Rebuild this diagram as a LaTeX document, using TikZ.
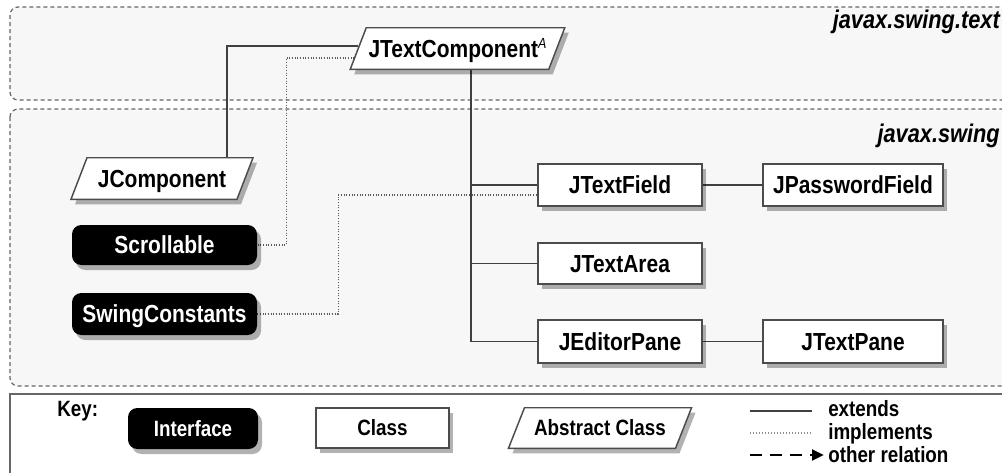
\documentclass[tikz,border=0pt]{standalone}
\usepackage{fontspec}
\newfontfamily\cond[FakeStretch=0.85]{Liberation Sans}
\usetikzlibrary{calc,shadows,arrows.meta}
\pgfdeclarelayer{pkg}
\pgfdeclarelayer{conn}
\pgfdeclarelayer{shape}
\pgfsetlayers{pkg,conn,shape,main}
\tikzset{
  lbl/.style={font=\cond\bfseries\fontsize{18.5}{21}\selectfont, text height=13.2pt, text depth=0pt, inner sep=0pt},
  legf/.style={font=\cond\bfseries\fontsize{16.6}{19}\selectfont, inner sep=0pt},
  shad/.style={drop shadow={shadow xshift=3pt, shadow yshift=-3.75pt, fill=black, opacity=.3}},
  cls/.style={lbl, draw=black!70, line width=1.1pt, fill=white, shad},
  iface/.style={lbl, fill=black, text=white, rounded corners=7pt, shad},
  abs/.style={lbl},
  absline/.style={draw=black!70, line width=1.1pt, fill=white},
  pkgbox/.style={draw=black!60, line width=0.9pt, dash pattern=on 3pt off 2.25pt, rounded corners=6pt, fill=black!3},
  keybox/.style={draw=black!60, line width=1.5pt, fill=white},
  ext/.style={draw=black!75, line width=1.2pt},
  impl/.style={draw=black!65, line width=1.1pt, dash pattern=on 0.75pt off 1.25pt},
  pkglbl/.style={font=\cond\bfseries\itshape\fontsize{19.2}{22}\selectfont, inner sep=0pt, anchor=base east},
}
\newcommand\paral[1]{%
\begin{pgfonlayer}{shape}
\fill[black,opacity=.3] ($(#1.south west)+(-4,5)$) -- ($(#1.north west)+(12,5)$) -- ($(#1.north east)+(12,5)$) -- ($(#1.south east)+(-4,5)$) -- cycle;
\draw[absline] ($(#1.south west)+(-8,0)$) -- ($(#1.north west)+(8,0)$) -- ($(#1.north east)+(8,0)$) -- ($(#1.south east)+(-8,0)$) -- cycle;
\end{pgfonlayer}}
\begin{document}
\begin{tikzpicture}[x=0.75pt,y=-0.75pt]
\useasboundingbox (0,0) rectangle (1002,472);
\begin{pgfonlayer}{pkg}
\fill[white] (0,0) rectangle (1002,472);
\draw[pkgbox] (10,7) rectangle (1016,100);
\draw[pkgbox] (10,109) rectangle (1016,386);
\draw[keybox] (10,394) rectangle (1016,480);
\end{pgfonlayer}
% package labels
\node[pkglbl] (pt) at (1000,28) {javax.swing.text};
\node[pkglbl] (ps) at (1000,142) {javax.swing};
% abstract classes
\node[abs, minimum width=148.5pt, minimum height=30.75pt] (tc) at (457.5,48.5) {JTextComponent{\fontsize{11}{11}\selectfont\mdseries\itshape\raisebox{6.5pt}{A}}};
\node[abs, minimum width=124.1pt, minimum height=30.75pt] (jc) at (162,178.5) {JComponent};
\paral{tc}
\paral{jc}
% interfaces
\node[iface, minimum width=138.75pt, minimum height=30pt] (scr) at (164.5,245) {Scrollable};
\node[iface, minimum width=138.75pt, minimum height=31.5pt] (swc) at (164.5,314) {SwingConstants};
% classes
\node[cls, minimum width=123pt, minimum height=31.5pt] (tf) at (620,185) {JTextField};
\node[cls, minimum width=135pt, minimum height=31.5pt] (pf) at (853,185) {JPasswordField};
\node[cls, minimum width=123pt, minimum height=30.75pt] (ta) at (620,263.5) {JTextArea};
\node[cls, minimum width=123pt, minimum height=32.25pt] (ep) at (620,341.5) {JEditorPane};
\node[cls, minimum width=135pt, minimum height=32.25pt] (tp) at (853,341.5) {JTextPane};
% connectors
\begin{pgfonlayer}{conn}
\coordinate (trunk) at ($(tc.south)+(13.5,0)$);
\draw[ext] ($(tc.west)+(0,-2.5)$) -| (jc.north -| 227,0);
\draw[ext] (trunk) |- (tf.west);
\draw[ext] (trunk) |- (ta.west);
\draw[ext] (trunk) |- (ep.west);
\draw[ext] (tf.east) -- (pf.west);
\draw[ext] (ep.east) -- (tp.west);
\draw[impl] ($(tc.west)+(-4,9.5)$) -| ($(scr.east)+(29,0)$) -- (scr.east);
\draw[impl] (swc.east) -| ($(tf.west)+(-199,10)$) -- ($(tf.west)+(0,10)$);
\end{pgfonlayer}
% key
\node[legf, anchor=base west] (key) at (57,416) {Key:};
\node[iface, legf, text height=11.9pt, text depth=0pt, minimum width=97.5pt, minimum height=30.75pt] (ki) at (193,428.5) {Interface};
\node[cls, legf, text height=11.9pt, text depth=0pt, minimum width=99.75pt, minimum height=30pt] (kc) at (382.5,428) {Class};
\node[abs, legf, text height=11.9pt, text depth=0pt, minimum width=124.9pt, minimum height=30pt] (ka) at (600,428) {Abstract Class};
\paral{ka}
\coordinate (e1) at (750,411); \coordinate (e2) at (812,411);
\coordinate (i1) at (750,433); \coordinate (i2) at (812,433);
\coordinate (o1) at (750,455); \coordinate (o2) at (824,455);
\draw[ext] (e1) -- (e2);
\draw[draw=black!45, line width=1pt, dash pattern=on 0.75pt off 1.5pt] (i1) -- (i2);
\draw[black, line width=2.2pt, dash pattern=on 9pt off 6pt, -{Triangle[length=9pt,width=8pt]}] (o1) -- (o2);
\node[legf, anchor=base west] (le) at (828,416) {extends};
\node[legf, anchor=base west] (li) at (828,439) {implements};
\node[legf, anchor=base west] (lo) at (828,462) {other relation};
\end{tikzpicture}
\end{document}
